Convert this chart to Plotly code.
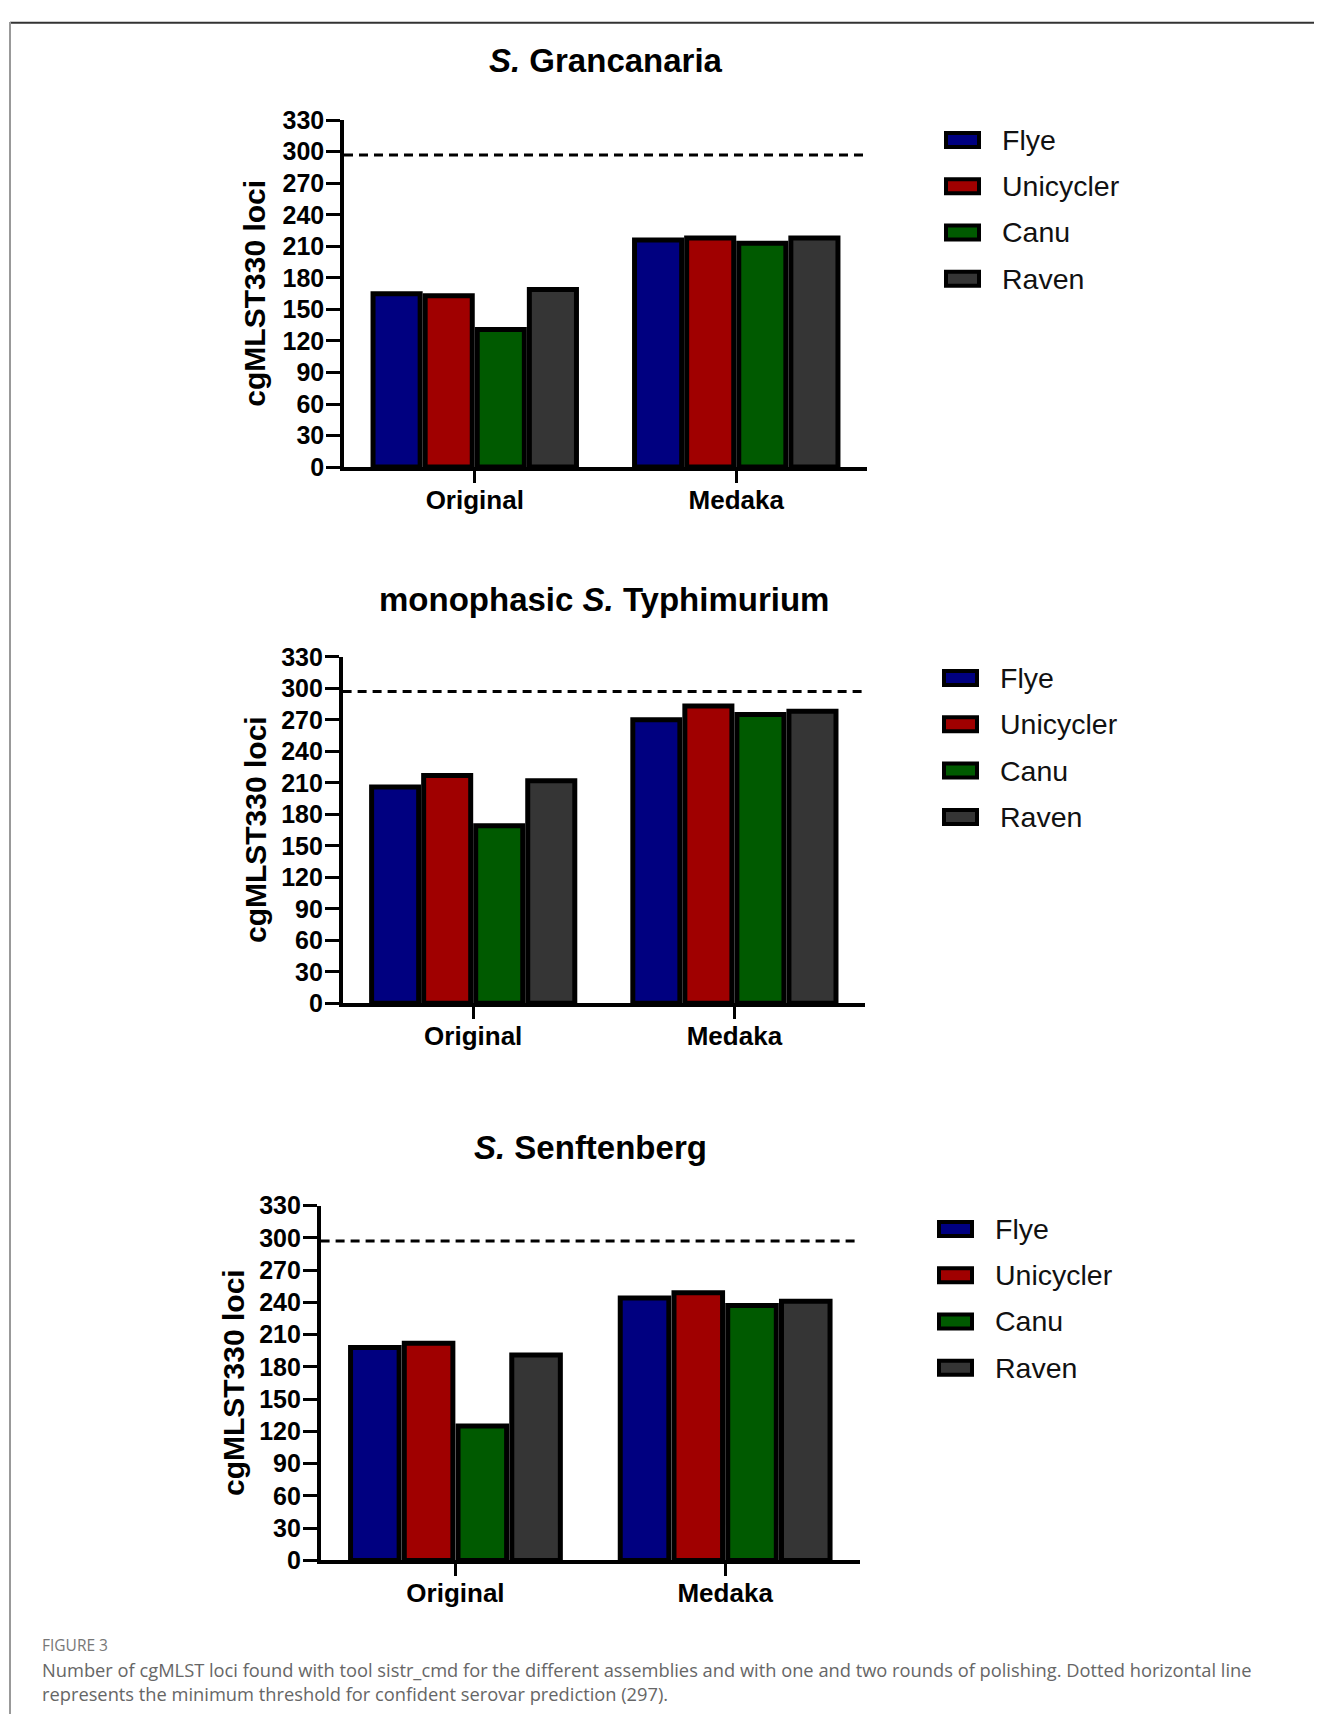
import plotly.graph_objects as go

# ---------------- data ----------------
CATEGORIES = ["Original", "Medaka"]
ASSEMBLERS = ["Flye", "Unicycler", "Canu", "Raven"]
COLORS = ["#000080", "#A00000", "#005A00", "#353535"]
THRESHOLD = 297
Y_TICKS = [0, 30, 60, 90, 120, 150, 180, 210, 240, 270, 300, 330]

# S. Grancanaria
GRAN_FLYE = [165, 216]
GRAN_UNICYCLER = [163, 218]
GRAN_CANU = [131, 213]
GRAN_RAVEN = [169, 218]

# monophasic S. Typhimurium
TYPH_FLYE = [206, 270]
TYPH_UNICYCLER = [217, 283]
TYPH_CANU = [169, 275]
TYPH_RAVEN = [212, 278]

# S. Senftenberg
SENF_FLYE = [198, 244]
SENF_UNICYCLER = [202, 249]
SENF_CANU = [125, 237]
SENF_RAVEN = [191, 241]

TITLES = [
    "<b><i>S.</i> Grancanaria</b>",
    "<b>monophasic <i>S.</i> Typhimurium</b>",
    "<b><i>S.</i> Senftenberg</b>",
]
Y_TITLE = "<b>cgMLST330 loci</b>"
CAPTION_LABEL = "FIGURE 3"
CAPTION_LINES = [
    "Number of cgMLST loci found with tool sistr_cmd for the different assemblies and with one and two rounds of polishing. Dotted horizontal line",
    "represents the minimum threshold for confident serovar prediction (297).",
]

PANEL_DATA = [
    [GRAN_FLYE, GRAN_UNICYCLER, GRAN_CANU, GRAN_RAVEN],
    [TYPH_FLYE, TYPH_UNICYCLER, TYPH_CANU, TYPH_RAVEN],
    [SENF_FLYE, SENF_UNICYCLER, SENF_CANU, SENF_RAVEN],
]

# ---------------- layout geometry (target page pixels) ----------------
OFF_X, OFF_Y = 8, 20.7           # page offset of the figure div
SCALE_Y = 0.984                  # observed vertical scale of the captured page
W, H = 1306, 1720

GEOM = [
    dict(x0=344, x1=867, ytop=118.6, ybot=465.6, title_y=58.5, ytitle_x=255, leg_top=138.3),
    dict(x0=342.6, x1=865, ytop=655.3, ybot=1002.0, title_y=598, ytitle_x=255, leg_top=676.6),
    dict(x0=320.6, x1=860, ytop=1204.3, ybot=1559.3, title_y=1146, ytitle_x=233, leg_top=1227.6),
]


def px(p):
    return (p - OFF_X) / W


def py(p):
    return 1 - (p / SCALE_Y - OFF_Y) / H


FONT = "Liberation Sans, Arial, sans-serif"
CAP_FONT = "Open Sans, Noto Sans, sans-serif"

fig = go.Figure()
shapes = []
annotations = []

for i, (series_list, g) in enumerate(zip(PANEL_DATA, GEOM)):
    n = "" if i == 0 else str(i + 1)
    xa, ya = "x" + n, "y" + n
    for name, vals, col in zip(ASSEMBLERS, series_list, COLORS):
        fig.add_trace(go.Bar(
            x=CATEGORIES, y=vals, name=name, xaxis=xa, yaxis=ya,
            marker=dict(color=col, line=dict(color="black", width=5)),
            showlegend=False,
        ))
    fig.update_layout(**{
        "xaxis" + n: dict(
            domain=[px(g["x0"]), px(g["x1"])], anchor=ya, type="category",
            categoryorder="array", categoryarray=CATEGORIES, range=[-0.5, 1.5],
            showline=True, linecolor="black", linewidth=3.5, showgrid=False, zeroline=False,
            ticks="outside", ticklen=12, tickwidth=3, tickcolor="black",
            tickfont=dict(family=FONT, size=26, color="black"), ticklabelstandoff=-5,
            tickprefix="<b>", ticksuffix="</b>", fixedrange=True,
        ),
        "yaxis" + n: dict(
            domain=[py(g["ybot"]), py(g["ytop"])], anchor=xa, range=[0, 330],
            tickvals=Y_TICKS, ticktext=["<b>%d</b>" % v for v in Y_TICKS],
            showline=True, linecolor="black", linewidth=3.5, showgrid=False, zeroline=False,
            ticks="outside", ticklen=14, tickwidth=3, tickcolor="black", ticklabelstandoff=-3,
            tickfont=dict(family=FONT, size=25, color="black"), fixedrange=True,
        ),
    })
    # threshold line in data coordinates
    shapes.append(dict(
        type="line", xref=xa + " domain", yref=ya, x0=0, x1=1, y0=THRESHOLD, y1=THRESHOLD,
        line=dict(color="black", width=3, dash="9px,6px"),
    ))
    # panel title
    annotations.append(dict(
        text=TITLES[i], xref="paper", yref="paper", x=px((g["x0"] + g["x1"]) / 2), y=py(g["title_y"]),
        xanchor="center", yanchor="middle", showarrow=False,
        font=dict(family=FONT, size=33, color="black"),
    ))
    # y-axis title
    annotations.append(dict(
        text=Y_TITLE, xref="paper", yref="paper", x=px(g["ytitle_x"]), y=py((g["ytop"] + g["ybot"]) / 2),
        xanchor="center", yanchor="middle", textangle=-90, showarrow=False,
        font=dict(family=FONT, size=30, color="black"),
    ))
    # legend
    for k, (name, col) in enumerate(zip(ASSEMBLERS, COLORS)):
        cy = g["leg_top"] + k * 46.3
        sx0 = g["x1"] + 79
        shapes.append(dict(
            type="rect", xref="paper", yref="paper",
            x0=px(sx0), x1=px(sx0 + 33), y0=py(cy + 7), y1=py(cy - 7),
            fillcolor=col, line=dict(color="black", width=4),
        ))
        annotations.append(dict(
            text=name, xref="paper", yref="paper", x=px(g["x1"] + 133), y=py(cy),
            xanchor="left", yanchor="middle", showarrow=False,
            font=dict(family=FONT, size=28.5, color="#111111"),
        ))

# frame lines
shapes.append(dict(type="line", xref="paper", yref="paper", x0=px(10), x1=1, y0=0.9995, y1=0.9995,
                   line=dict(color="#333333", width=2)))
shapes.append(dict(type="line", xref="paper", yref="paper", x0=px(10), x1=px(10), y0=1, y1=0,
                   line=dict(color="#999999", width=2)))

# caption
annotations.append(dict(
    text=CAPTION_LABEL, xref="paper", yref="paper", x=px(40), y=py(1644), xanchor="left", yanchor="middle",
    showarrow=False, font=dict(family=CAP_FONT, size=15.5, color="#777777"),
))
for j, line in enumerate(CAPTION_LINES):
    annotations.append(dict(
        text=line, xref="paper", yref="paper", x=px(40), y=py(1668 + j * 24), xanchor="left", yanchor="middle",
        showarrow=False, font=dict(family=CAP_FONT, size=18.3, color="#666666"),
    ))

fig.update_layout(
    width=W, height=H, margin=dict(l=0, r=0, t=0, b=0),
    paper_bgcolor="white", plot_bgcolor="white",
    barmode="group", bargap=0.203, bargroupgap=0.096,
    shapes=shapes, annotations=annotations, showlegend=False,
    font=dict(family=FONT, color="black"),
)

fig.write_html("out.html")
